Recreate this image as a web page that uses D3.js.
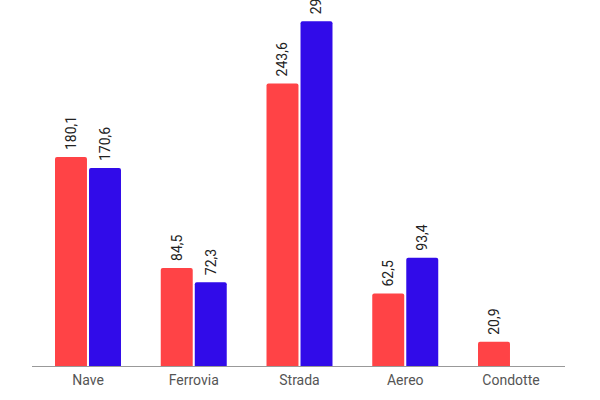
<!DOCTYPE html>
<html>
<head>
<meta charset="utf-8">
<script src="https://cdn.jsdelivr.net/npm/d3@7"></script>
<style>
  body { margin: 0; background: #fff; }
  text { font-family: Roboto, "Noto Sans", sans-serif; }
</style>
</head>
<body>
<svg id="chart"></svg>
<script>
var categories = ["Nave", "Ferrovia", "Strada", "Aereo", "Condotte"];
var seriesNames = ["a", "b"];
var seriesA = [180.1, 84.5, 243.6, 62.5, 20.9];
var seriesB = [170.6, 72.3, 297.1, 93.4, null];
var colors = ["#ff4346", "#310be9"];

var svg = d3.select("#chart")
    .attr("width", 600)
    .attr("height", 400);

var x = d3.scaleBand()
    .domain(categories)
    .range([32, 567])
    .paddingInner(0.376)
    .paddingOuter(0.2175);

var xs = d3.scaleBand()
    .domain(seriesNames)
    .range([0, x.bandwidth()])
    .paddingInner(0.06);

var y = d3.scaleLinear()
    .domain([0, 300])
    .range([366, 18]);

var rows = categories.map(function(c, i) {
    return { cat: c, vals: [seriesA[i], seriesB[i]] };
});

var groups = svg.append("g")
    .selectAll("g")
    .data(rows)
    .enter().append("g")
    .attr("transform", function(d) { return "translate(" + x(d.cat) + ",0)"; });

var bars = groups.selectAll("g.bar")
    .data(function(d) {
        return d.vals.map(function(v, j) { return { s: seriesNames[j], v: v, j: j }; })
            .filter(function(e) { return e.v != null; });
    })
    .enter().append("g")
    .attr("class", "bar");

bars.append("path")
    .attr("fill", function(d) { return colors[d.j]; })
    .attr("d", function(d) {
        var x0 = xs(d.s), w = xs.bandwidth(), y0 = y(d.v), b = y(0), r = 2;
        return "M" + x0 + "," + b + "V" + (y0 + r) + "Q" + x0 + "," + y0 + " " + (x0 + r) + "," + y0 +
            "H" + (x0 + w - r) + "Q" + (x0 + w) + "," + y0 + " " + (x0 + w) + "," + (y0 + r) + "V" + b + "Z";
    });

bars.append("text")
    .text(function(d) { return d3.format(".1f")(d.v).replace(".", ","); })
    .attr("transform", function(d) {
        return "translate(" + (xs(d.s) + xs.bandwidth() / 2) + "," + (y(d.v) - 7) + ") rotate(-90)";
    })
    .attr("dy", "0.35em")
    .style("font-size", "14px")
    .attr("fill", "#222");

var xAxis = svg.append("g")
    .attr("transform", "translate(0," + y(0) + ")")
    .call(d3.axisBottom(x).tickSize(0).tickPadding(9));

xAxis.select(".domain").attr("stroke", "#999").attr("d", "M32,0.5H565");
xAxis.selectAll("text")
    .style("font-size", "14px")
    .style("font-family", "Roboto, sans-serif")
    .attr("fill", "#555");
</script>
</body>
</html>
